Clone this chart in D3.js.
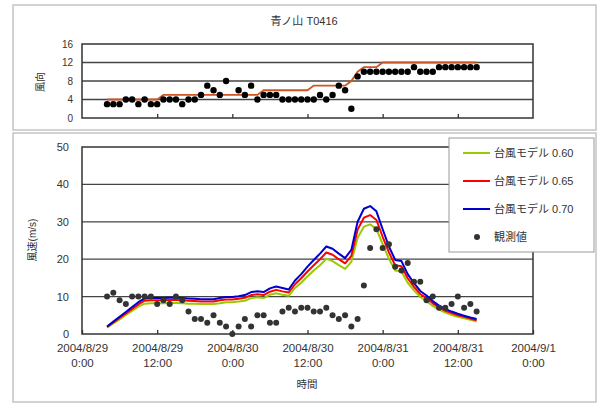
<!DOCTYPE html>
<html>
<head>
<meta charset="utf-8">
<script src="https://cdn.jsdelivr.net/npm/d3@7"></script>
<style>
  body { margin: 0; background: #fff; }
  svg { font-family: "Liberation Sans", Arial, "Noto Sans CJK JP", sans-serif; }
</style>
</head>
<body>
<svg id="chart" width="600" height="405"></svg>
<script>
// hours after 2004/8/29 0:00
const hours = [4,5,6,7,8,9,10,11,12,13,14,15,16,17,18,19,20,21,22,23,
  24,25,26,27,28,29,30,31,32,33,34,35,36,37,38,39,40,41,42,43,
  44,45,46,47,48,49,50,51,52,53,54,55,56,57,58,59,60,61,62,63];

// wind direction (16 points), observed; null = calm
const dirObs = [3,3,3,4,4,3,4,3,3,4,4,4,3,4,4,5,7,6,5,8,
  null,6,5,7,4,5,5,5,4,4,4,4,4,4,5,4,5,7,6,2,
  9,10,10,10,10,10,10,10,10,11,10,10,10,11,11,11,11,11,11,11];

// wind direction, typhoon model
const dirModel = [4,4,4,4,4,4,4,4,4,5,5,5,5,5,5,5,5,5,5,5,
  5,5,5,5,5,6,6,6,6,6,6,6,6,7,7,7,7,7,7,8,
  10,11,11,11,12,12,12,12,12,12,12,12,12,12,12,12,12,12,12,12];

// wind speed (m/s), observed
const spdObs = [10,11,9,8,10,10,10,10,8,9,8,10,9,6,4,4,3,5,3,2,
  0,2,4,2,5,5,3,3,6,7,6,7,7,6,6,7,5,4,5,2,
  4,13,23,28,23,24,18,17,19,14,14,9,10,7,7,8,10,7,8,6];

// wind speed (m/s), typhoon model with three coefficients
const spd060 = [1.7,2.8,3.9,5.1,6.2,7.3,8.1,8.2,8.2,8.2,8.3,8.3,8.2,8.1,8.1,8.0,8.0,8.0,8.2,8.5,
  8.5,8.7,8.9,9.6,9.8,9.6,10.5,10.9,10.5,10.2,12.3,13.7,15.4,17.0,18.4,20.1,19.5,18.4,17.4,19.3,
  25.7,28.7,29.3,28.1,24.0,20.1,17.0,16.7,13.7,11.7,9.9,8.8,7.5,6.5,5.7,5.1,4.6,4.2,3.8,3.4];
const spd065 = [1.9,3.1,4.3,5.5,6.7,7.9,8.9,9.0,9.0,9.0,9.1,9.1,9.0,8.9,8.8,8.7,8.7,8.7,9.0,9.2,
  9.2,9.4,9.7,10.4,10.6,10.4,11.3,11.8,11.4,11.1,13.3,14.9,16.7,18.4,20.0,21.8,21.2,20.0,18.9,20.9,
  27.9,31.1,31.8,30.5,26.0,21.8,18.4,18.1,14.9,12.6,10.7,9.6,8.2,7.1,6.2,5.6,5.0,4.6,4.1,3.7];
const spd070 = [2.0,3.3,4.6,5.9,7.2,8.5,9.5,9.6,9.6,9.6,9.7,9.7,9.6,9.5,9.4,9.3,9.3,9.3,9.6,9.9,
  9.9,10.1,10.4,11.2,11.4,11.2,12.2,12.7,12.3,11.9,14.3,16.0,18.0,19.8,21.5,23.4,22.8,21.5,20.3,22.5,
  30.0,33.5,34.2,32.8,28.0,23.4,19.8,19.5,16.0,13.6,11.5,10.3,8.8,7.6,6.7,6.0,5.4,4.9,4.4,4.0];

const seriesNames = ['台風モデル 0.60', '台風モデル 0.65', '台風モデル 0.70', '観測値'];
const seriesColors = ['#99cc00', '#ff0000', '#0000cc', '#333333'];
const xTickLabels = [['2004/8/29', '0:00'], ['2004/8/29', '12:00'], ['2004/8/30', '0:00'],
  ['2004/8/30', '12:00'], ['2004/8/31', '0:00'], ['2004/8/31', '12:00'], ['2004/9/1', '0:00']];
const dirTicks = [0, 4, 8, 12, 16];
const spdTicks = [0, 10, 20, 30, 40, 50];

const svg = d3.select('#chart');
const t0 = new Date(2004, 7, 29, 0);
const toDate = h => new Date(t0.getTime() + h * 3600000);

const x = d3.scaleTime()
  .domain([t0, new Date(2004, 8, 1, 0)])
  .range([82, 533]);
const xTicks = d3.timeHour.every(12).range(t0, new Date(2004, 8, 1, 1));

// chart frames
svg.append('rect').attr('x', 13).attr('y', 5).attr('width', 583).attr('height', 125)
  .attr('fill', 'none').attr('stroke', '#c4c4c4').attr('stroke-width', 1.5);
svg.append('rect').attr('x', 13).attr('y', 133).attr('width', 583).attr('height', 269)
  .attr('fill', 'none').attr('stroke', '#c4c4c4').attr('stroke-width', 1.5);

// ---------- top: wind direction ----------
const yDir = d3.scaleLinear().domain([0, 16]).range([118, 44]);

svg.append('text')
  .attr('x', 304).attr('y', 25)
  .attr('text-anchor', 'middle')
  .attr('font-size', 11).attr('fill', '#333')
  .text('青ノ山  T0416');

const topG = svg.append('g');
topG.selectAll('.grid').data(dirTicks.slice(1, -1)).join('line')
  .attr('x1', 82).attr('x2', 533)
  .attr('y1', d => yDir(d)).attr('y2', d => yDir(d))
  .attr('stroke', '#444').attr('stroke-width', 1.3);

topG.append('g')
  .attr('transform', 'translate(0,118)')
  .call(d3.axisBottom(x).tickValues(xTicks.slice(1, -1)).tickSizeInner(-4).tickSizeOuter(0).tickFormat(''))
  .call(g => g.select('.domain').remove())
  .call(g => g.selectAll('line').attr('stroke', '#333').attr('stroke-width', 1.3));

topG.append('g')
  .attr('transform', 'translate(82,0)')
  .call(d3.axisLeft(yDir).tickValues(dirTicks).tickSize(0).tickPadding(9))
  .call(g => g.select('.domain').remove())
  .call(g => g.selectAll('text').attr('font-size', 10).attr('fill', '#333').attr('font-family', null));

topG.append('rect')
  .attr('x', 82).attr('y', 44).attr('width', 451).attr('height', 74)
  .attr('fill', 'none').attr('stroke', '#333').attr('stroke-width', 1.5);

svg.append('text')
  .attr('transform', 'translate(44,82) rotate(-90)')
  .attr('text-anchor', 'middle')
  .attr('font-size', 10).attr('fill', '#333')
  .text('風向');

const dirLine = d3.line()
  .x((d, i) => x(toDate(hours[i])))
  .y(d => yDir(d));
topG.append('path')
  .datum(dirModel)
  .attr('d', dirLine)
  .attr('fill', 'none').attr('stroke', '#cc5522').attr('stroke-width', 1.8);

topG.selectAll('.dobs').data(hours.filter((h, i) => dirObs[i] !== null)).join('circle')
  .attr('cx', h => x(toDate(h)))
  .attr('cy', h => yDir(dirObs[hours.indexOf(h)]))
  .attr('r', 3.2)
  .attr('fill', '#000');

// ---------- bottom: wind speed ----------
const ySpd = d3.scaleLinear().domain([0, 50]).range([334, 147]);
const botG = svg.append('g');

botG.selectAll('.grid').data(spdTicks.slice(1, -1)).join('line')
  .attr('x1', 82).attr('x2', 533)
  .attr('y1', d => ySpd(d)).attr('y2', d => ySpd(d))
  .attr('stroke', '#444').attr('stroke-width', 1.3);

const xAxisG = botG.append('g')
  .attr('transform', 'translate(0,334)')
  .call(d3.axisBottom(x).tickValues(xTicks).tickSizeInner(-4).tickSizeOuter(0).tickPadding(10)
    .tickFormat((d, i) => i));
xAxisG.select('.domain').remove();
xAxisG.selectAll('line').attr('stroke', '#333').attr('stroke-width', 1.3);
xAxisG.selectAll('text')
  .attr('font-size', 11.5).attr('fill', '#333').attr('font-family', null)
  .each(function(d, i) {
    const t = d3.select(this).text('');
    t.append('tspan').attr('x', 0).attr('dy', '0.71em').text(xTickLabels[i][0]);
    t.append('tspan').attr('x', 0).attr('dy', '1.3em').text(xTickLabels[i][1]);
  });

botG.append('g')
  .attr('transform', 'translate(82,0)')
  .call(d3.axisLeft(ySpd).tickValues(spdTicks).tickSize(0).tickPadding(13))
  .call(g => g.select('.domain').remove())
  .call(g => g.selectAll('text').attr('font-size', 11).attr('fill', '#333').attr('font-family', null));

botG.append('rect')
  .attr('x', 82).attr('y', 147).attr('width', 451).attr('height', 187)
  .attr('fill', 'none').attr('stroke', '#333').attr('stroke-width', 1.5);

svg.append('text')
  .attr('transform', 'translate(36,240) rotate(-90)')
  .attr('text-anchor', 'middle')
  .attr('font-size', 10).attr('fill', '#333')
  .text('風速(m/s)');

svg.append('text')
  .attr('x', 307).attr('y', 388)
  .attr('text-anchor', 'middle')
  .attr('font-size', 10.5).attr('fill', '#333')
  .text('時間');

const spdLine = d3.line()
  .x((d, i) => x(toDate(hours[i])))
  .y(d => ySpd(d));
[spd060, spd065, spd070].forEach((s, k) => {
  botG.append('path')
    .datum(s)
    .attr('d', spdLine)
    .attr('fill', 'none')
    .attr('stroke', seriesColors[k])
    .attr('stroke-width', 2)
    .attr('stroke-linejoin', 'round');
});

botG.selectAll('.sobs').data(hours).join('circle')
  .attr('cx', h => x(toDate(h)))
  .attr('cy', (h, i) => ySpd(spdObs[i]))
  .attr('r', 3)
  .attr('fill', seriesColors[3]);

// legend
const leg = svg.append('g');
leg.append('rect')
  .attr('x', 449).attr('y', 138).attr('width', 145).attr('height', 114)
  .attr('fill', '#fff').attr('stroke', '#999').attr('stroke-width', 1);
seriesNames.forEach((name, i) => {
  const cy = 153 + i * 28;
  if (i < 3) {
    leg.append('line')
      .attr('x1', 463).attr('x2', 490).attr('y1', cy).attr('y2', cy)
      .attr('stroke', seriesColors[i]).attr('stroke-width', 2);
  } else {
    leg.append('circle').attr('cx', 477).attr('cy', cy).attr('r', 3).attr('fill', seriesColors[i]);
  }
  leg.append('text')
    .attr('x', 494).attr('y', cy + 4)
    .attr('font-size', 11).attr('fill', '#333')
    .text(name);
});
</script>
</body>
</html>
